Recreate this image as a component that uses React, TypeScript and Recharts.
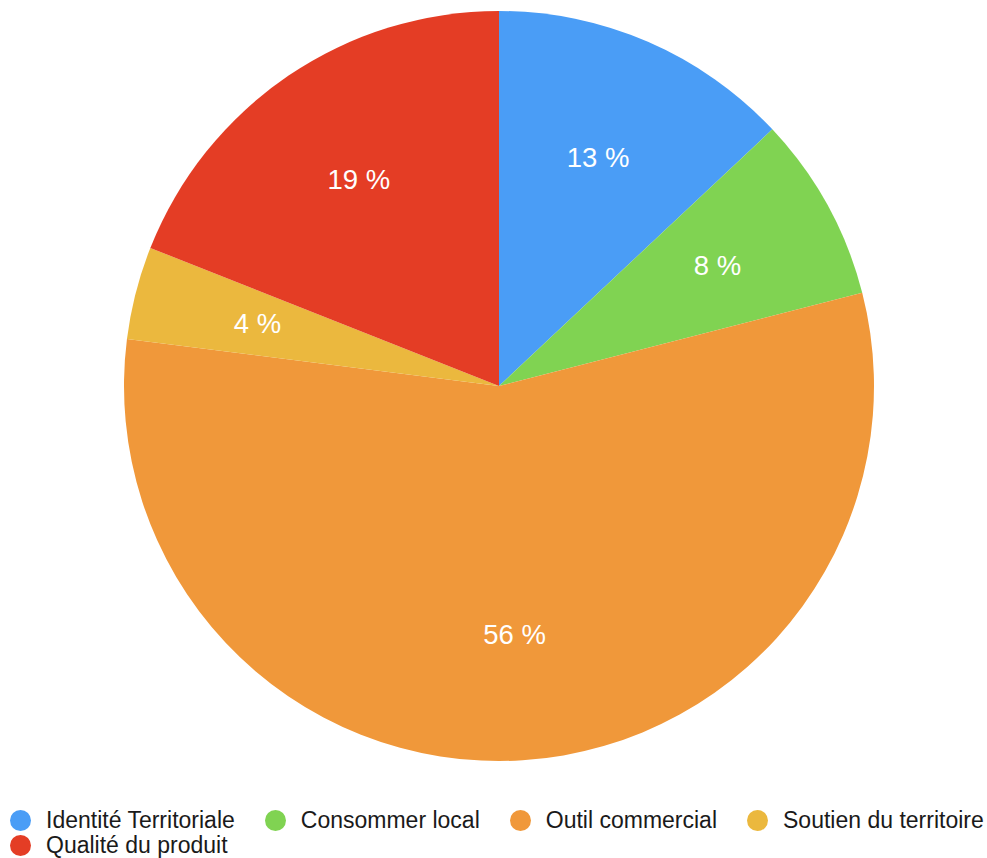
import { Cell, Legend, Pie, PieChart } from "recharts";

const NAMES = [
  "Identité Territoriale",
  "Consommer local",
  "Outil commercial",
  "Soutien du territoire",
  "Qualité du produit",
];
const SHARES = [13, 8, 56, 4, 19];
const COLORS = ["#4A9DF6", "#80D352", "#F0983A", "#EBB83E", "#E43D25"];
// legend wraps after the fourth entry
const LEGEND_ROWS = [NAMES.slice(0, 4), NAMES.slice(4)];

const FONT = "'Liberation Sans', Arial, Helvetica, sans-serif";
const RADIAN = Math.PI / 180;

const data = NAMES.map((name, i) => ({ name, value: SHARES[i] }));

function SliceLabel(props: any) {
  const { cx, cy, midAngle, outerRadius, percent } = props;
  const r = outerRadius * 0.665;
  const x = cx + r * Math.cos(-midAngle * RADIAN);
  const y = cy + r * Math.sin(-midAngle * RADIAN);
  return (
    <text
      x={x}
      y={y}
      fill="#ffffff"
      fontSize={27.5}
      fontFamily={FONT}
      textAnchor="middle"
      dominantBaseline="central"
    >
      {`${Math.round(percent * 100)} %`}
    </text>
  );
}

function LegendRows() {
  return (
    <div
      style={{
        paddingLeft: 10,
        fontFamily: FONT,
        fontSize: 23,
        color: "#1a1a1a",
      }}
    >
      {LEGEND_ROWS.map((row, r) => (
        <div key={r} style={{ display: "flex", height: 25 }}>
          {row.map((name) => {
            const i = NAMES.indexOf(name);
            return (
              <div
                key={name}
                style={{
                  display: "flex",
                  alignItems: "center",
                  marginRight: 30,
                  whiteSpace: "nowrap",
                }}
              >
                <span
                  style={{
                    display: "inline-block",
                    width: 21,
                    height: 21,
                    borderRadius: "50%",
                    background: COLORS[i],
                    marginRight: 15,
                  }}
                />
                {name}
              </div>
            );
          })}
        </div>
      ))}
    </div>
  );
}

export default function App() {
  return (
    <div
      style={{
        position: "absolute",
        left: 0,
        top: 0,
        width: 987,
        height: 858,
        background: "#ffffff",
        overflow: "hidden",
      }}
    >
      <PieChart
        width={987}
        height={858}
        margin={{ top: 0, right: 0, bottom: 0, left: 0 }}
      >
        <Pie
          data={data}
          dataKey="value"
          nameKey="name"
          cx={499}
          cy={386}
          outerRadius={375}
          startAngle={90}
          endAngle={-270}
          stroke="none"
          label={SliceLabel}
          labelLine={false}
          isAnimationActive={false}
        >
          {data.map((d, i) => (
            <Cell key={d.name} fill={COLORS[i]} />
          ))}
        </Pie>
        <Legend
          verticalAlign="bottom"
          content={<LegendRows />}
          wrapperStyle={{ left: 0, top: 808, bottom: "auto", width: 1100 }}
        />
      </PieChart>
    </div>
  );
}
